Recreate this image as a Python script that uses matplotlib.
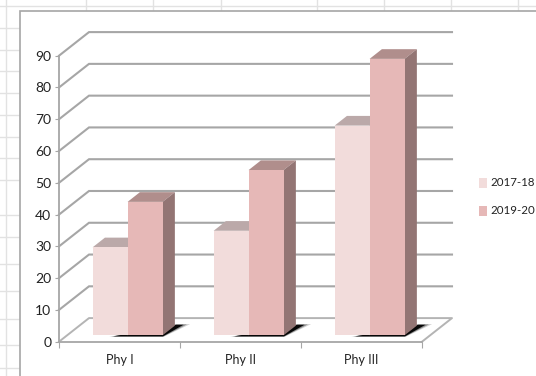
import matplotlib
matplotlib.use("Agg")
import matplotlib.pyplot as plt
from matplotlib.patches import Polygon, Rectangle
from matplotlib.transforms import IdentityTransform

categories = ["Phy I", "Phy II", "Phy III"]
series_names = ["2017-18", "2019-20"]
values_2017 = [27.7, 32.9, 66]
values_2019 = [42, 52, 87]
y_ticks = list(range(0, 100, 10))

W, H = 536, 376
fig = plt.figure(figsize=(W / 100, H / 100), dpi=100, facecolor="white")
FONT = ["Lato", "DejaVu Sans"]
plt.rcParams["font.family"] = FONT

bg = fig.add_axes([0, 0, 1, 1], zorder=0)
bg.set_xlim(0, W); bg.set_ylim(H, 0); bg.axis("off")
for x in [5.5, 86, 153, 221, 317, 384, 451, 518]:
    bg.plot([x, x], [0, H], color="#e2e2e2", lw=1)
for y in [6, 28, 50, 71, 93, 115, 137, 158, 180, 215, 237, 264, 291, 319, 345, 368]:
    bg.plot([0, W], [y, y], color="#e2e2e2", lw=1)
bg.add_patch(Rectangle((19.5, 11), W + 10, H, fc="white", ec="#a6a6a6", lw=1.2, zorder=3))

L, R, B, T = 59, 422, 341.7, 55.7
ax = fig.add_axes([L / W, 1 - B / H, (R - L) / W, (B - T) / H], zorder=2)
ax.set_xlim(0, 3); ax.set_ylim(0, 90)
ax.patch.set_alpha(0)
for s in ["top", "right"]:
    ax.spines[s].set_visible(False)
for s in ["left", "bottom"]:
    ax.spines[s].set_color("#a6a6a6"); ax.spines[s].set_linewidth(1.3)
ax.set_yticks(y_ticks)
ax.set_xticks([0, 1, 2, 3])
ax.set_xticklabels([])
ax.set_xticks([.5, 1.5, 2.5], minor=True)
ax.set_xticklabels(categories, minor=True, fontsize=9, family=FONT, color="#222222")
ax.tick_params(axis="x", which="minor", length=0, pad=9)
ax.tick_params(axis="x", which="major", length=4, color="#a6a6a6", direction="out")
ax.tick_params(axis="y", length=3, color="#a6a6a6", labelsize=10, pad=2.5, labelcolor="#222222")
for t in ax.get_yticklabels():
    t.set_family(FONT)

DX, DY = 30.0, 23.6   # wall depth in pixels
identity = IdentityTransform()

def pix(x, v, d=0.0):
    """Project data point at depth fraction d of the chart floor into pixels."""
    px, py = ax.transData.transform((x, v))
    return (px + DX * d, py + DY * d)

def poly(pts, color, z, **kw):
    fig.add_artist(Polygon(pts, closed=True, fc=color, ec=kw.pop("ec", "none"),
                           lw=kw.pop("lw", 0), transform=identity, zorder=z, **kw))

# Walls: gridlines
for v in y_ticks:
    if v == 0:
        continue
    a, b, c = pix(0, v), pix(0, v, 1), pix(3, v, 1)
    ax.plot([a[0], b[0], c[0]], [a[1], b[1], c[1]], transform=identity,
            color="#a6a6a6", lw=1.5, clip_on=False, solid_joinstyle="miter", zorder=1)
# Floor
f = [pix(0, 0), pix(0, 0, 1), pix(3, 0, 1), pix(3, 0)]
ax.plot(*zip(*f), transform=identity, color="#b4b4b4", lw=1.4, clip_on=False, zorder=1)

BW = 0.289
D0, D1 = 0.27, 0.68
LIGHT = ("#f2dcdb", "#bba9a9", "#a89292")
DARK = ("#e6b8b7", "#b08e8c", "#937574")

def bar(x, v, cols, z):
    front, top, side = cols
    fa = pix(x, 0, D0); fb = pix(x + BW, 0, D0)
    ta = pix(x, v, D0); tb = pix(x + BW, v, D0)
    tc = pix(x + BW, v, D1); td = pix(x, v, D1); bc = pix(x + BW, 0, D1)
    poly([ta, tb, tc, td], top, z)
    poly([fb, tb, tc, bc], side, z)
    poly([fa, fb, tb, ta], front, z + .1)

def shadow(x, z):
    # soft black cast shadow under the dark bar, reaching right along the floor
    for grow, alpha in [(1.0, .18), (.6, .35), (.2, .95)]:
        g = grow * 0.012
        a = pix(x - .10 - 3 * g, 0, D0 - .04 - 2 * g)
        b = pix(x + BW + .012 + g, 0, D0 - .04 - 2 * g)
        c = pix(x + BW + .05 + 5 * g, 0, D1 + .03 + 3 * g)
        d = pix(x + BW, 0, D1 + .03 + 3 * g)
        poly([a, b, c, d], "#000000", z, alpha=alpha)

for i in range(len(categories)):
    x0 = i + .5 - BW
    z = 5 + i
    shadow(x0 + BW, z)
    bar(x0, values_2017[i], LIGHT, z + .2)
    bar(x0 + BW, values_2019[i], DARK, z + .5)

# Legend
for name, col, yp in zip(series_names, [LIGHT[0], DARK[0]], [182.5, 210.5]):
    bg.add_patch(Rectangle((479, yp - 5), 8, 10, fc=col, ec="none", zorder=4))
    bg.text(490, yp, name, fontsize=8.3, family=FONT, color="#222222", va="center", ha="left", zorder=4)

fig.savefig("out.png", dpi=100)
